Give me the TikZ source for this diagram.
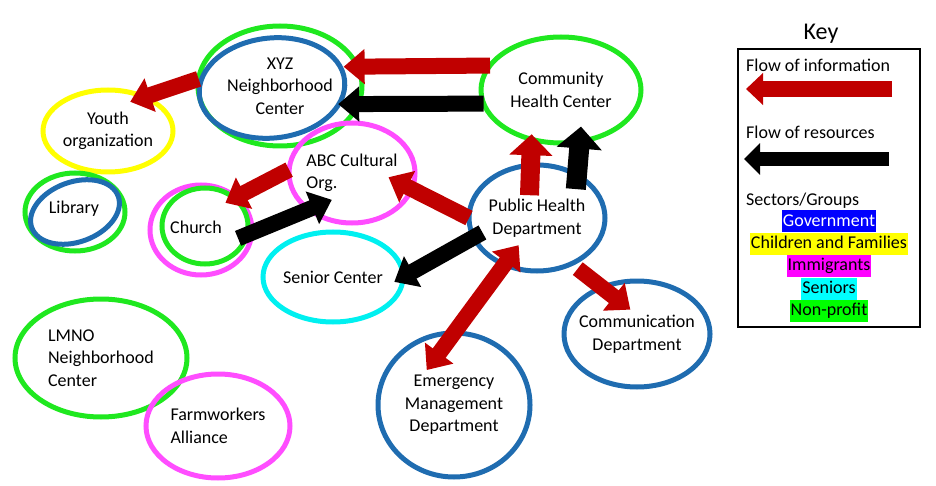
\documentclass[tikz,border=0pt]{standalone}
\usepackage{fontspec}
\setmainfont{Carlito}
\usetikzlibrary{positioning, arrows.meta, shapes.geometric}
\definecolor{PenGreen}{HTML}{1FE81F}
\definecolor{PenBlue}{HTML}{1F6CB0}
\definecolor{PenPink}{HTML}{FF4DFF}
\definecolor{PenCyan}{HTML}{00F0F0}
\definecolor{PenYellow}{HTML}{FFFF00}
\definecolor{InfoRed}{HTML}{C00000}
\definecolor{KeyBlue}{HTML}{0000FF}
\definecolor{KeyYellow}{HTML}{FFFF00}
\definecolor{KeyPink}{HTML}{FF00FF}
\definecolor{KeyCyan}{HTML}{00FFFF}
\definecolor{KeyGreen}{HTML}{00FF00}

\begin{document}
\begin{tikzpicture}[
    x=1pt, y=-1pt,
    font=\fontsize{18}{22.5}\selectfont,
    ring/.style={ellipse, line width=5pt, inner sep=-12pt, outer sep=0pt, align=center},
    info/.style={draw=InfoRed, line width=16pt, -{Triangle[length=21pt, width=34pt]}},
    res/.style={draw=black, line width=16pt, -{Triangle[length=21pt, width=34pt]}},
    sector/.style={inner xsep=1pt, inner ysep=1.5pt, text height=14pt, text depth=5pt},
    keytext/.style={anchor=west, inner sep=0pt, text height=13pt, text depth=4pt}
  ]
    \useasboundingbox (0,0) rectangle (936,486);

    % Groups
    \node (xyz) [ring, draw=PenGreen, minimum width=164pt, minimum height=120pt] at (280,86) {XYZ\\Neighborhood\\Center};
    \draw [PenBlue, line width=5pt, rotate around={6:(272,88)}] (272,88) ellipse (73 and 50);
    \node (youth) [ring, draw=PenYellow, minimum width=130pt, minimum height=82pt] at (108,131) {Youth\\organization};
    \node (library) [ring, draw=PenGreen, minimum width=100pt, minimum height=78pt] at (75,212) {};
    \draw [PenBlue, line width=5pt, rotate around={20:(75,212)}] (75,212) ellipse (46 and 30);
    \node (libtext) at (74,209) {Library};
    \node (church) [ring, draw=PenPink, minimum width=102pt, minimum height=90pt] at (201,230) {};
    \draw [PenGreen, line width=5pt] (205,226) ellipse (43 and 38);
    \node (churchtext) at (196,227) {Church};
    \node (abc) [ring, draw=PenPink, minimum width=126pt, minimum height=100pt, align=left] at (352,173) {ABC Cultural\\Org.};
    \node (chc) [ring, draw=PenGreen, minimum width=160pt, minimum height=106pt] at (561,90) {Community\\Health Center};
    \node (phd) [ring, draw=PenBlue, minimum width=136pt, minimum height=106pt] at (537,218) {Public Health\\Department};
    \node (senior) [ring, draw=PenCyan, minimum width=140pt, minimum height=90pt] at (333,277) {Senior Center};
    \node (comm) [ring, draw=PenBlue, minimum width=146pt, minimum height=106pt] at (637,334) {Communication\\Department};
    \node (emg) [ring, draw=PenBlue, minimum width=152pt, minimum height=144pt] at (454,405) {Emergency\\Management\\Department};
    \node (lmno) [ring, draw=PenGreen, minimum width=172pt, minimum height=118pt, align=left] at (101,358) {LMNO\\Neighborhood\\Center};
    \node (farm) [ring, draw=PenPink, minimum width=144pt, minimum height=104pt, align=left] at (218,426) {Farmworkers\\Alliance};

    % Flows
    \draw [info, shorten >=-14pt] (chc.161) -- (xyz.14);
    \draw [res, shorten >=-20pt] (chc.190) -- (xyz.-13);
    \draw [info, shorten >=-15pt] (xyz.175) -- (youth.43);
    \draw [info, shorten >=-12pt] (abc.177) -- (church.43);
    \draw [res, shorten <=-15pt, shorten >=-25pt] (church.-3) -- (abc.220);
    \draw [info, shorten >=-26pt] (phd.180) -- (abc.-15);
    \draw [info, line width=19pt, -{Triangle[length=21pt, width=42pt]}, shorten <=-30pt, shorten >=-5pt] (phd.97) -- (chc.239);
    \draw [res, line width=20pt, -{Triangle[length=22pt, width=44pt]}, shorten <=-14pt, shorten >=-15pt] (phd.47) -- (chc.-70);
    \draw [res, shorten <=-10pt, shorten >=-10pt] (phd.197) -- (senior.0);
    \draw [info, {Triangle[length=21pt, width=34pt]}-{Triangle[length=21pt, width=34pt]}, shorten <=-46pt, shorten >=-24pt] (emg.90) -- (phd.235);
    \draw [info, shorten <=8pt, shorten >=-36pt] (phd.-53) -- (comm.127);

    % Key
    \node (keytitle) at (821,34) {\fontsize{24}{28}\selectfont Key};
    \node (keybox) [draw, line width=2.5pt, minimum width=182pt, minimum height=278pt, inner sep=0pt] at (829,188) {};
    \node (infolabel) [keytext] at (746,67) {Flow of information};
    \coordinate (infotail) at (892,89);
    \coordinate (infotip) at (746,89);
    \draw [info, -{Triangle[length=17pt, width=31pt]}] (infotail) -- (infotip);
    \node (reslabel) [keytext] at (746,134) {Flow of resources};
    \coordinate (restail) at (889,159);
    \coordinate (restip) at (744,159);
    \draw [res, line width=14pt, -{Triangle[length=16pt, width=31pt]}] (restail) -- (restip);
    \node (sectorlabel) [keytext] at (746,201) {Sectors/Groups};
    \node (gov) [sector, fill=KeyBlue, text=white] at (829,221.5) {Government};
    \node (families) [sector, fill=KeyYellow, below=0pt of gov] {Children and Families};
    \node (immigrants) [sector, fill=KeyPink, below=0pt of families] {Immigrants};
    \node (seniors) [sector, fill=KeyCyan, below=0pt of immigrants] {Seniors};
    \node (nonprofit) [sector, fill=KeyGreen, below=0pt of seniors] {Non-profit};
\end{tikzpicture}
\end{document}
